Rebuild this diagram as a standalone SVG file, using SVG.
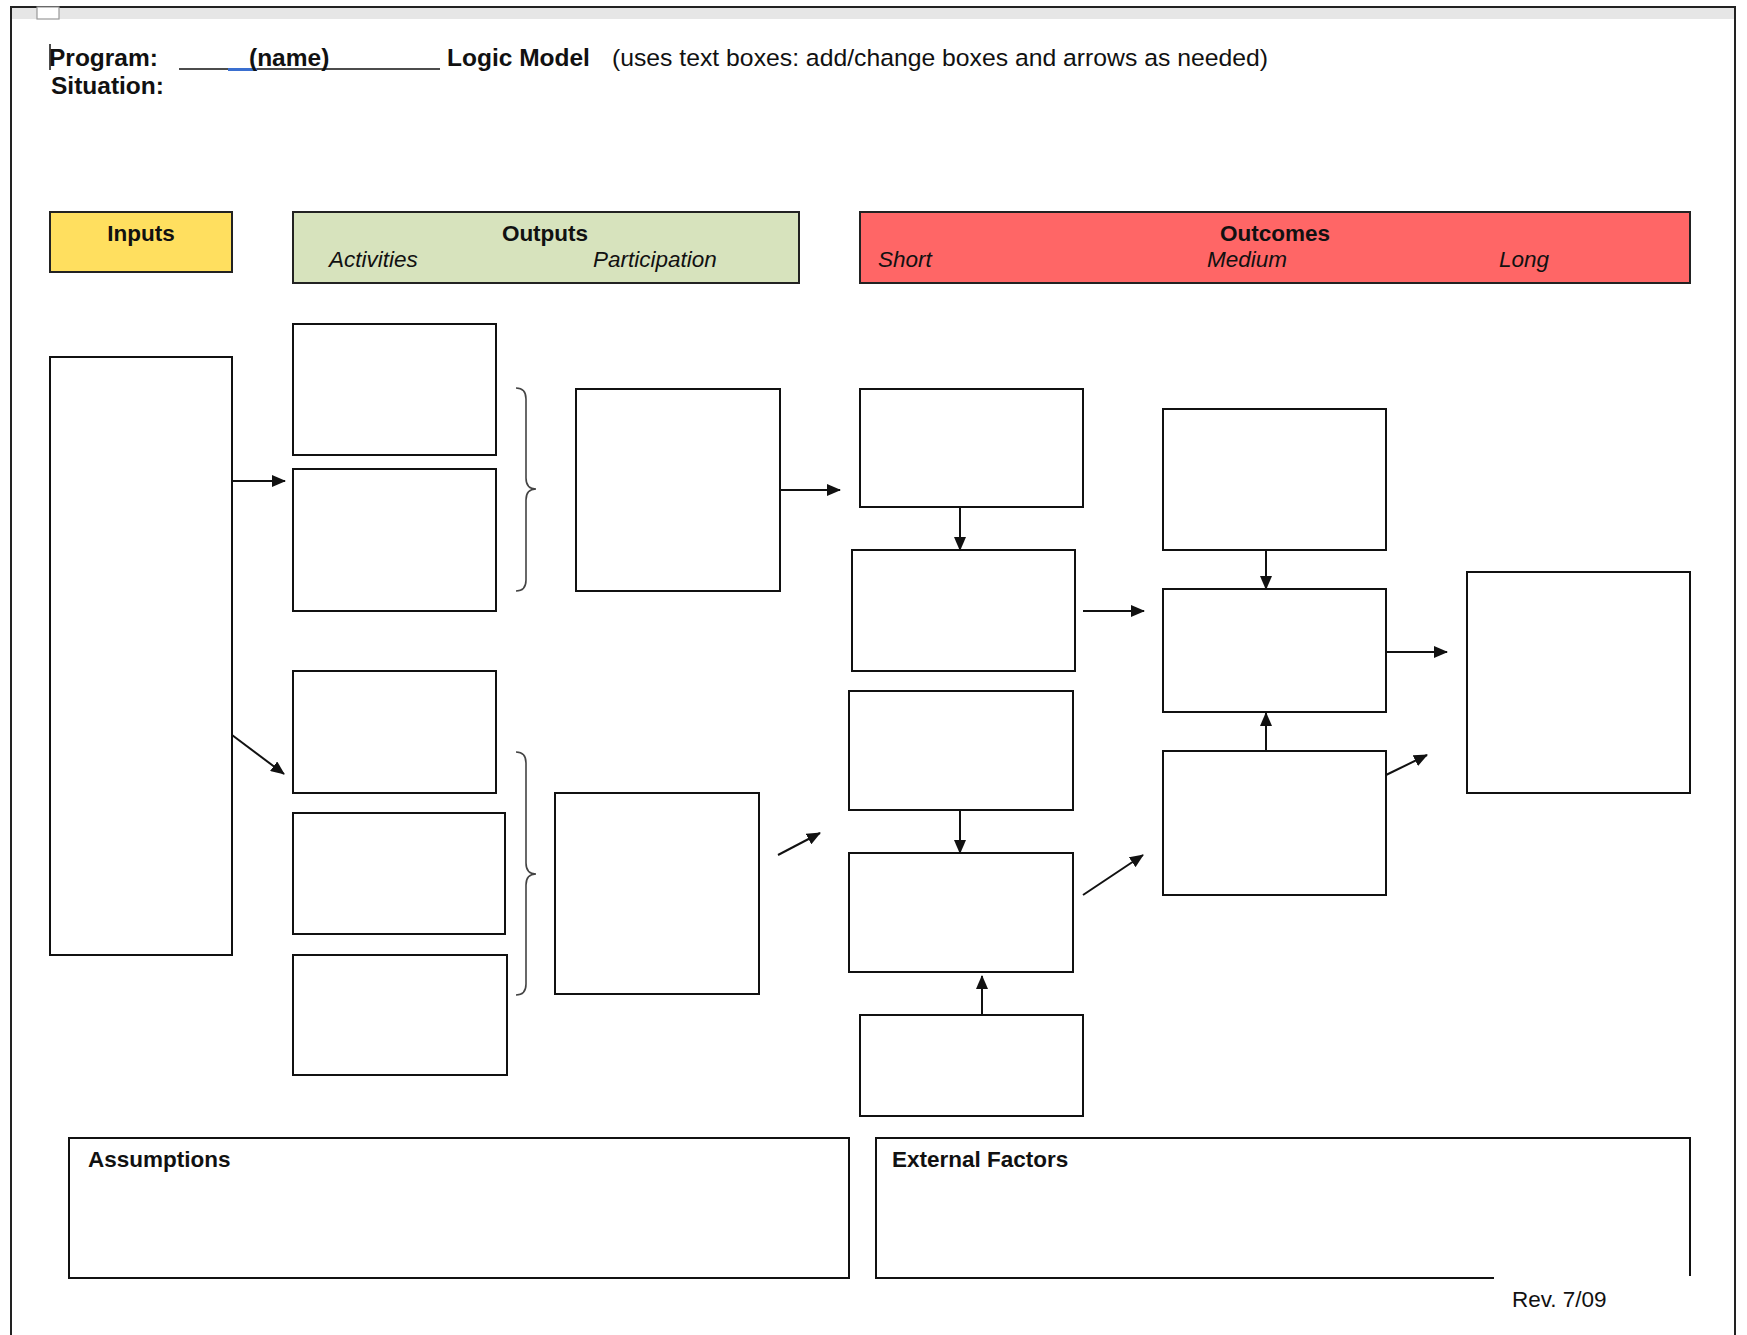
<svg xmlns="http://www.w3.org/2000/svg" width="1747" height="1335" viewBox="0 0 1747 1335">
<style>
.t{font-family:"Liberation Sans",Arial,sans-serif;fill:#111}
.b{font-weight:bold}
.i{font-style:italic}
.box{fill:#fff;stroke:#111;stroke-width:2}
.hdr{stroke:#222;stroke-width:2}
.c{stroke:#111;stroke-width:2;fill:none}
.br{stroke:#444;stroke-width:1.6;fill:none}
</style>
<defs>
<marker id="ah" markerUnits="userSpaceOnUse" markerWidth="14" markerHeight="12" refX="13" refY="6" orient="auto">
<path d="M0,0 L14,6 L0,12 z" fill="#111"/>
</marker>
</defs>
<rect width="1747" height="1335" fill="#fff"/>
<g id="page">
<rect x="11" y="7" width="1724" height="12" fill="#e6e6e6"/>
<line x1="10" y1="7" x2="1736" y2="7" stroke="#222" stroke-width="2"/>
<line x1="11" y1="6" x2="11" y2="1335" stroke="#222" stroke-width="2"/>
<line x1="1735" y1="6" x2="1735" y2="1335" stroke="#222" stroke-width="2"/>
<rect x="37" y="7" width="22" height="12" fill="#fff" stroke="#999" stroke-width="1.2"/>
</g>
<g id="title">
<line x1="50" y1="44" x2="50" y2="70" stroke="#111" stroke-width="1.5"/>
<text class="t b" x="49" y="66" font-size="24.5">Program:</text>
<line x1="179" y1="69" x2="440" y2="69" stroke="#111" stroke-width="1.5"/>
<line x1="228" y1="69.5" x2="257" y2="69.5" stroke="#3a6fd0" stroke-width="3"/>
<text class="t b" x="249" y="66" font-size="24.5">(name)</text>
<text class="t b" x="447" y="66" font-size="24.5">Logic Model</text>
<text class="t" x="612" y="66" font-size="24.5" textLength="656" lengthAdjust="spacingAndGlyphs">(uses text boxes: add/change boxes and arrows as needed)</text>
<text class="t b" x="51" y="94" font-size="24.5">Situation:</text>
</g>
<g id="inputs-header"><rect class="hdr" x="50" y="212" width="182" height="60" fill="#ffdf5f"/><text class="t b" x="141" y="241" font-size="22.5" text-anchor="middle">Inputs</text></g>
<g id="outputs-header"><rect class="hdr" x="293" y="212" width="506" height="71" fill="#d7e3bd"/><text class="t b" x="545" y="241" font-size="22.5" text-anchor="middle">Outputs</text><text class="t i" x="329" y="267" font-size="22.5">Activities</text><text class="t i" x="593" y="267" font-size="22.5">Participation</text></g>
<g id="outcomes-header"><rect class="hdr" x="860" y="212" width="830" height="71" fill="#ff6666"/><text class="t b" x="1275" y="241" font-size="22.5" text-anchor="middle">Outcomes</text><text class="t i" x="878" y="267" font-size="22.5">Short</text><text class="t i" x="1207" y="267" font-size="22.5">Medium</text><text class="t i" x="1499" y="267" font-size="22.5">Long</text></g>
<g id="input-box"><rect class="box" x="50" y="357" width="182" height="598"/></g>
<g id="act1"><rect class="box" x="293" y="324" width="203" height="131"/></g>
<g id="act2"><rect class="box" x="293" y="469" width="203" height="142"/></g>
<g id="act3"><rect class="box" x="293" y="671" width="203" height="122"/></g>
<g id="act4"><rect class="box" x="293" y="813" width="212" height="121"/></g>
<g id="act5"><rect class="box" x="293" y="955" width="214" height="120"/></g>
<g id="brace1"><path class="br" d="M516,388 Q526,388 526,399 L526,478 Q526,489 536,489 Q526,489 526,500 L526,580 Q526,591 516,591"/></g>
<g id="brace2"><path class="br" d="M516,752 Q526,752 526,763 L526,863 Q526,874 536,874 Q526,874 526,885 L526,984 Q526,995 516,995"/></g>
<g id="part1"><rect class="box" x="576" y="389" width="204" height="202"/></g>
<g id="part2"><rect class="box" x="555" y="793" width="204" height="201"/></g>
<g id="short1"><rect class="box" x="860" y="389" width="223" height="118"/></g>
<g id="short2"><rect class="box" x="852" y="550" width="223" height="121"/></g>
<g id="short3"><rect class="box" x="849" y="691" width="224" height="119"/></g>
<g id="short4"><rect class="box" x="849" y="853" width="224" height="119"/></g>
<g id="short5"><rect class="box" x="860" y="1015" width="223" height="101"/></g>
<g id="med1"><rect class="box" x="1163" y="409" width="223" height="141"/></g>
<g id="med2"><rect class="box" x="1163" y="589" width="223" height="123"/></g>
<g id="med3"><rect class="box" x="1163" y="751" width="223" height="144"/></g>
<g id="long1"><rect class="box" x="1467" y="572" width="223" height="221"/></g>
<g id="connectors">
<line class="c" x1="232" y1="481" x2="285" y2="481" marker-end="url(#ah)"/>
<line class="c" x1="232" y1="735" x2="284" y2="774" marker-end="url(#ah)"/>
<line class="c" x1="780" y1="490" x2="840" y2="490" marker-end="url(#ah)"/>
<line class="c" x1="778" y1="855" x2="820" y2="833" marker-end="url(#ah)"/>
<line class="c" x1="960" y1="507" x2="960" y2="550" marker-end="url(#ah)"/>
<line class="c" x1="960" y1="810" x2="960" y2="853" marker-end="url(#ah)"/>
<line class="c" x1="982" y1="1015" x2="982" y2="976" marker-end="url(#ah)"/>
<line class="c" x1="1083" y1="611" x2="1144" y2="611" marker-end="url(#ah)"/>
<line class="c" x1="1083" y1="895" x2="1143" y2="855" marker-end="url(#ah)"/>
<line class="c" x1="1266" y1="550" x2="1266" y2="589" marker-end="url(#ah)"/>
<line class="c" x1="1266" y1="751" x2="1266" y2="713" marker-end="url(#ah)"/>
<line class="c" x1="1386" y1="652" x2="1447" y2="652" marker-end="url(#ah)"/>
<line class="c" x1="1386" y1="775" x2="1427" y2="755" marker-end="url(#ah)"/>
</g>
<g id="assumptions"><rect class="box" x="69" y="1138" width="780" height="140"/><text class="t b" x="88" y="1167" font-size="22.5">Assumptions</text></g>
<g id="external-factors"><path d="M1494,1278 L876,1278 L876,1138 L1690,1138 L1690,1276" fill="#fff" stroke="#111" stroke-width="2"/><text class="t b" x="892" y="1167" font-size="22.5">External Factors</text></g>
<g id="rev"><text class="t" x="1512" y="1307" font-size="22.5">Rev. 7/09</text></g>
</svg>
